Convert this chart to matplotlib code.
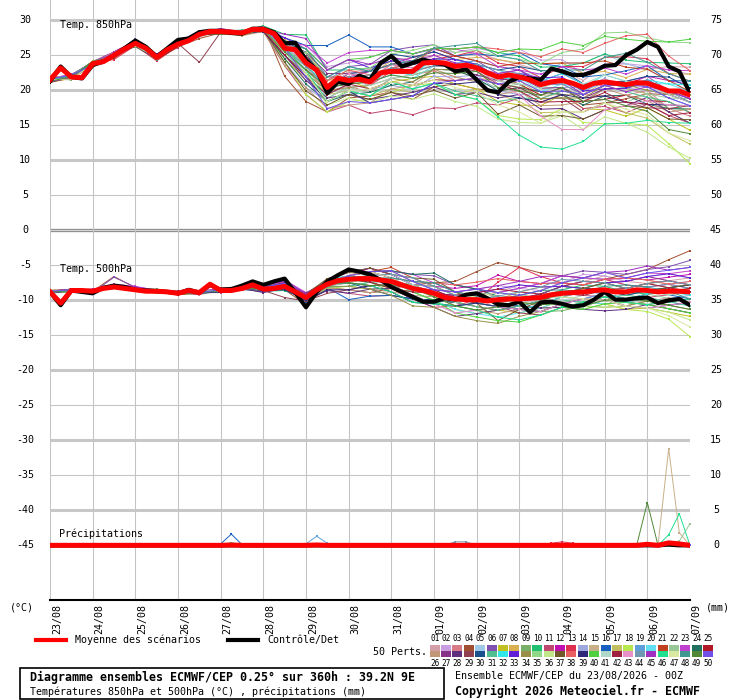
import matplotlib
matplotlib.use("Agg")
import matplotlib.pyplot as plt
import matplotlib.transforms as mtransforms
from matplotlib.lines import Line2D
from matplotlib.patches import Rectangle
import numpy as np

W, H = 740, 700
plt.rcParams['font.family'] = ['DejaVu Sans Mono']

dates = ["23/08", "24/08", "25/08", "26/08", "27/08", "28/08", "29/08", "30/08",
         "31/08", "01/09", "02/09", "03/09", "04/09", "05/09", "06/09", "07/09"]

# 6-hourly ensemble mean / control (deg C), 0..360h
mean850 = [21.5, 23.2, 21.9, 21.8, 23.8, 24.1, 25.0, 25.9, 26.7, 26.0,
           24.7, 25.8, 26.6, 27.1, 28.0, 28.4, 28.4, 28.3, 28.2, 28.7,
           28.7, 28.1, 26.0, 25.8, 23.9, 22.9, 20.4, 21.7, 21.4, 21.6,
           21.2, 22.5, 22.7, 22.7, 22.7, 23.9, 24.0, 23.9, 23.4, 23.6,
           23.2, 22.5, 21.9, 22.2, 21.9, 21.5, 20.8, 21.2, 21.4, 21.0,
           20.4, 21.0, 21.2, 21.0, 20.8, 21.1, 21.0, 20.5, 19.9, 19.9, 19.3]
ctrl850 = [21.3, 23.4, 21.9, 21.7, 23.6, 24.1, 25.0, 26.0, 27.1, 26.2,
           24.8, 26.0, 27.2, 27.4, 28.3, 28.5, 28.5, 28.2, 28.1, 28.8,
           28.8, 28.3, 26.7, 26.8, 24.3, 22.9, 19.6, 21.2, 20.9, 22.1,
           21.5, 23.9, 24.9, 23.4, 23.9, 24.4, 23.9, 23.7, 22.7, 23.0,
           21.5, 20.0, 19.7, 21.2, 21.9, 21.7, 21.5, 23.1, 22.7, 22.2,
           22.2, 22.7, 23.5, 23.6, 25.0, 25.8, 26.9, 26.2, 23.4, 22.7, 19.6]
mean500 = [-8.8, -10.4, -8.6, -8.6, -8.7, -8.3, -8.1, -8.3, -8.5, -8.7,
           -8.7, -8.8, -9.0, -8.6, -8.9, -7.7, -8.6, -8.6, -8.3, -7.8,
           -8.4, -8.3, -8.0, -8.8, -9.6, -8.5, -7.7, -7.2, -7.0, -6.9,
           -6.9, -7.1, -7.3, -7.8, -8.3, -8.6, -9.0, -9.6, -9.8, -9.9,
           -9.9, -10.1, -9.9, -9.8, -9.8, -9.7, -9.6, -9.2, -9.0, -8.9,
           -8.8, -8.6, -8.5, -8.8, -8.8, -8.5, -8.6, -8.8, -8.7, -8.7, -8.8]
ctrl500 = [-8.8, -10.7, -8.6, -8.8, -9.0, -8.2, -7.9, -8.1, -8.5, -8.6,
           -8.7, -8.8, -9.0, -8.5, -8.9, -7.8, -8.5, -8.4, -7.9, -7.3,
           -7.8, -7.3, -6.9, -8.9, -11.0, -8.8, -7.3, -6.4, -5.6, -5.9,
           -6.3, -7.1, -8.1, -8.8, -9.5, -10.2, -10.2, -9.7, -9.9, -9.2,
           -9.0, -9.7, -10.6, -10.7, -10.2, -11.7, -10.3, -10.2, -10.5, -10.9,
           -10.7, -9.9, -8.8, -9.9, -9.9, -9.7, -9.6, -10.4, -10.0, -9.8, -10.7]
rain_mean = [0] * 17 + [0.05] + [0] * 7 + [0.05] + [0] * 30 + [0.15, 0, 0.35, 0.2, 0]
rain_ctrl = [0] * 58 + [0.1, 0, 0]

# 12-hourly member departures from the ensemble mean (deg C), members 01..50
dev850 = [
    [0.2,-0.3,0.1,0.4,-0.2,0.3,0.1,-0.2,0.3,0.2,-0.1,0.8,1.5,1.0,1.2,1.8,1.5,2.0,1.0,1.5,2.2,2.5,1.8,2.0,1.5,1.0,2.5,3.0,2.0,3.5,4.0],
    [-0.3,0.2,0.3,-0.1,0.2,-0.4,0.2,0.3,-0.1,0.0,0.4,1.5,2.5,3.0,2.5,3.5,3.0,2.5,1.8,2.0,2.8,3.5,4.0,3.5,3.0,2.0,2.5,3.0,2.5,3.0,3.0],
    [0.1,0.1,-0.2,0.3,0.5,0.2,-0.3,0.1,0.0,-0.2,0.2,-0.5,-1.0,-0.5,-0.8,-1.5,-1.0,-0.5,-1.2,-2.0,-1.5,-0.5,-1.0,-2.0,-1.5,-1.0,-2.0,-1.5,-1.0,-2.5,-3.0],
    [-0.2,0.3,-0.5,0.5,0.4,-0.3,-0.4,-0.6,-0.2,0.3,0.5,-4.0,-5.5,-3.5,-2.5,-2.0,-3.0,-4.0,-3.5,-2.5,-3.0,-2.0,-1.5,-1.0,-2.0,-2.5,-3.0,-2.0,-1.5,-0.5,-1.0],
    [0.3,-0.2,0.2,0.1,-0.3,0.4,0.2,0.1,-0.3,-0.2,0.0,0.5,-1.5,-1.5,-1.0,-0.5,0.5,1.0,0.5,-0.5,-1.0,-0.5,0.5,1.5,2.5,3.5,4.0,3.0,2.0,1.5,0.5],
    [0.0,0.2,-0.3,0.2,0.6,0.4,0.3,0.5,0.2,0.1,-0.2,1.0,0.5,1.5,2.0,2.5,3.0,3.5,2.5,1.5,1.0,0.5,1.0,0.0,-0.5,-1.0,-0.5,0.5,1.0,0.0,-0.5],
    [-0.4,-0.1,0.4,-0.2,-0.3,0.1,-0.2,0.2,0.0,0.3,0.1,-1.5,-2.5,-0.5,0.0,-1.0,-1.5,-1.0,-2.0,-2.5,-3.0,-3.5,-4.0,-3.0,-2.0,-3.0,-4.0,-4.5,-3.5,-4.0,-5.0],
    [0.2,0.0,0.1,-0.4,0.1,0.2,0.3,-0.1,0.2,-0.3,0.3,1.2,2.0,1.0,0.5,1.0,1.5,1.0,0.5,1.0,1.5,2.5,2.0,3.0,2.5,2.0,1.5,1.0,2.0,2.5,3.0],
    [0.1,-0.4,0.0,0.3,-0.5,-0.2,0.1,0.2,-0.3,0.4,-0.1,0.5,-0.5,0.5,1.0,0.5,0.0,-0.5,-1.0,-0.5,0.0,-1.0,-1.5,-2.0,-2.5,-2.0,-1.0,-0.5,-1.5,-2.5,-2.0],
    [-0.1,0.3,0.2,-0.3,0.2,0.3,-0.1,0.0,0.1,0.2,0.5,2.0,4.0,2.5,1.5,2.0,1.5,1.0,2.0,2.5,3.0,3.5,3.0,2.5,2.0,3.5,4.0,3.5,3.0,4.0,4.5],
    [0.3,0.1,-0.4,0.0,-0.2,0.1,-0.5,0.3,-0.4,-0.2,-0.3,-2.5,-4.5,-3.5,-3.5,-4.5,-5.5,-6.2,-6.5,-6.0,-5.0,-4.0,-3.0,-2.5,-2.0,-3.0,-3.5,-4.0,-3.0,-3.5,-4.0],
    [0.2,0.2,0.3,0.5,0.3,0.0,0.2,0.4,0.1,0.2,0.2,0.5,1.0,0.5,0.5,1.5,1.0,2.0,1.5,1.0,0.5,-0.5,0.0,0.5,1.0,0.5,-0.5,0.0,1.0,1.5,1.5],
    [-0.3,-0.2,0.1,-0.6,-0.3,-0.5,-0.3,-0.2,0.0,-0.1,0.0,0.0,-1.0,0.5,0.5,-0.5,0.0,1.0,0.5,1.5,2.5,2.0,1.5,1.0,2.0,3.0,3.5,4.0,3.5,2.5,2.0],
    [0.0,-0.1,-0.2,0.2,0.0,0.2,-0.1,-0.4,0.2,0.1,-0.2,-2.0,-3.5,-2.0,-1.5,-1.0,-2.0,-2.5,-2.0,-1.5,-1.0,-2.0,-2.5,-1.5,-1.0,0.0,0.5,-0.5,-1.0,-0.5,0.5],
    [0.1,0.3,0.0,0.1,-0.1,0.3,0.2,0.1,0.3,0.0,0.1,0.5,0.0,-1.0,-0.5,0.5,1.0,0.5,0.0,-0.5,-1.5,-1.0,-0.5,-1.5,-2.0,-1.0,0.0,-0.5,-1.5,-3.0,-4.0],
    [-0.2,0.1,0.2,0.2,-0.1,-0.2,0.0,0.3,-0.2,-0.3,0.3,1.5,2.5,6.0,6.5,5.0,3.5,2.5,2.0,1.5,2.0,3.0,3.5,3.0,2.0,1.5,1.0,2.0,2.5,1.5,2.0],
    [0.4,0.0,-0.1,-0.2,0.2,0.1,0.4,0.0,0.1,0.3,-0.4,-1.0,-2.0,-1.0,-1.5,-2.0,-2.5,-3.0,-3.5,-4.0,-3.0,-2.5,-3.5,-4.0,-4.5,-3.5,-3.0,-4.0,-5.0,-6.0,-7.0],
    [-0.1,-0.3,0.3,0.0,-0.4,-0.1,0.3,-0.3,0.0,-0.4,0.2,-2.0,-4.5,-3.5,-3.0,-2.5,-3.0,-2.0,-3.0,-4.0,-4.5,-5.5,-6.0,-5.0,-4.0,-5.0,-6.0,-5.5,-6.0,-7.5,-9.8],
    [0.2,0.0,-0.3,0.4,0.3,0.0,0.1,0.2,-0.1,0.1,0.0,0.0,0.5,1.0,2.0,1.5,2.0,1.0,0.0,0.5,1.0,1.5,1.0,0.5,0.0,-0.5,0.0,0.5,-0.5,-1.0,-1.5],
    [0.0,0.2,0.1,-0.3,0.1,0.4,-0.2,0.1,0.3,-0.1,0.1,-0.5,-2.0,-1.0,-0.5,0.0,-0.5,-1.0,-0.5,0.0,0.5,1.0,0.0,-1.0,-0.5,0.0,1.0,0.5,0.0,1.0,0.5],
    [-0.3,0.1,0.2,0.1,-0.2,-0.3,-0.4,0.2,0.0,0.1,-0.2,1.0,1.5,0.5,0.0,0.5,1.0,1.5,2.0,1.5,1.0,1.5,2.0,3.0,2.5,3.5,3.0,2.5,2.0,1.5,0.5],
    [0.1,-0.2,0.0,0.2,0.3,-0.1,0.2,-0.3,0.1,0.0,0.3,0.0,-0.5,-1.5,-1.0,-1.5,-1.0,-0.5,-1.0,-1.5,-2.0,-1.5,-1.0,-0.5,-1.0,-1.5,-2.0,-2.5,-1.5,-1.0,-0.5],
    [0.2,0.4,-0.1,0.3,0.1,0.2,0.3,0.4,0.2,0.3,0.2,1.0,2.5,3.5,4.0,4.5,3.0,2.5,2.0,2.5,2.0,1.5,1.0,1.5,2.0,2.5,2.0,1.5,2.5,3.0,3.5],
    [-0.2,-0.1,0.3,-0.1,0.0,0.1,-0.2,-0.1,-0.3,0.2,0.0,-1.5,-3.0,-2.0,-2.0,-1.5,-2.0,-1.5,-1.0,-0.5,-1.5,-2.0,-1.5,-1.0,-2.0,-2.5,-2.0,-1.5,-3.0,-2.5,-2.0],
    [0.3,0.2,0.1,0.0,0.2,-0.2,0.1,0.0,0.4,0.2,0.1,0.5,1.0,0.0,-0.5,0.0,0.5,0.0,-0.5,0.0,0.5,0.0,-1.0,-1.5,-1.0,-2.0,-2.5,-1.5,-2.5,-1.5,-2.5],
    [-0.1,0.0,-0.4,0.2,-0.2,0.0,-0.3,0.1,-0.2,-0.4,-0.3,-2.5,-3.5,-3.0,-3.5,-3.0,-2.5,-2.0,-1.0,-1.5,-2.0,-2.5,-2.0,-3.0,-3.5,-2.0,-1.0,-1.5,-2.5,-3.0,-2.0],
    [0.0,0.3,0.2,-0.2,0.1,0.3,0.0,-0.1,0.1,0.3,0.2,0.5,1.5,2.0,1.0,1.5,1.0,0.5,0.0,-0.5,-1.0,-0.5,0.0,-0.5,-1.0,-1.5,-1.0,-0.5,0.0,-0.5,-1.0],
    [0.2,-0.1,0.1,0.3,-0.1,-0.1,0.2,-0.2,0.0,-0.1,-0.1,-1.0,-2.5,-1.5,-2.0,-2.5,-3.5,-3.0,-3.5,-4.0,-3.5,-3.0,-2.5,-3.5,-4.0,-4.5,-4.0,-3.0,-2.0,-3.0,-4.0],
    [-0.4,0.1,-0.1,-0.1,0.2,0.2,0.1,-4.0,-0.1,0.2,0.4,0.0,1.0,1.5,0.5,0.0,0.5,1.0,0.5,0.0,-0.5,-1.0,-1.5,-2.0,-2.5,-3.5,-3.0,-2.5,-3.5,-2.5,-1.5],
    [0.1,0.2,0.0,-0.2,-0.3,0.1,0.0,0.3,0.2,0.0,0.2,1.0,1.5,0.0,1.0,1.5,2.5,2.0,1.5,1.0,0.5,1.0,1.5,2.0,1.5,0.5,0.0,0.5,1.0,2.0,1.0],
    [0.2,0.0,0.3,0.1,0.4,0.3,0.1,0.2,0.1,0.4,0.0,-0.5,-1.5,-2.0,-1.5,-2.0,-1.5,-2.5,-3.0,-3.5,-4.0,-3.5,-3.0,-2.0,-1.5,-1.0,-0.5,-1.0,-2.0,-1.5,-2.5],
    [-0.2,0.3,-0.2,0.2,0.0,0.2,0.3,-0.2,0.1,-0.2,0.1,0.5,0.0,-0.5,0.0,0.5,0.0,-0.5,0.5,1.0,0.5,0.0,-0.5,0.5,1.0,0.5,0.0,-0.5,0.5,1.0,1.5],
    [0.0,-0.3,0.1,0.3,0.2,-0.1,0.2,0.1,0.3,0.1,-0.1,1.5,2.0,2.5,3.0,2.0,1.5,1.0,0.5,1.0,0.5,0.0,0.5,1.0,0.5,-0.5,-1.0,-0.5,0.5,0.0,-0.5],
    [0.3,0.1,-0.3,0.0,0.3,0.0,-0.1,0.3,-0.2,0.1,0.3,-1.0,-1.5,-0.5,-1.0,-0.5,-1.0,-1.5,-1.0,-0.5,0.0,-0.5,-1.0,-2.0,-2.5,-1.5,-0.5,0.0,-1.0,-0.5,0.0],
    [-0.1,0.2,0.2,0.4,-0.2,0.1,0.0,0.0,0.2,0.3,0.1,0.5,1.5,1.0,1.5,2.0,2.5,3.0,2.5,2.0,2.5,3.0,2.5,3.0,4.0,5.5,7.0,7.5,6.5,7.0,7.5],
    [0.2,-0.2,0.0,-0.3,0.0,-0.2,0.2,0.1,-0.1,0.0,-0.2,-0.5,-1.0,-2.5,-2.5,-3.0,-3.5,-4.0,-4.5,-5.0,-5.5,-6.0,-6.5,-5.5,-5.0,-6.0,-5.0,-5.5,-7.0,-8.0,-9.0],
    [-0.3,-0.1,0.1,-0.4,-0.1,-0.3,-0.2,0.0,-0.4,-0.3,-0.1,-2.0,-4.0,-2.5,-2.0,-2.5,-3.0,-3.5,-4.0,-4.5,-3.5,-5.3,-4.0,-4.5,-5.0,-4.5,-4.0,-3.0,-3.5,-4.0,-3.5],
    [0.1,0.0,0.2,0.1,0.1,0.3,0.0,-0.3,0.2,0.1,0.2,0.5,0.5,1.0,1.5,1.0,0.5,1.0,2.0,2.5,3.0,4.0,3.5,4.0,4.5,5.0,5.5,7.0,7.0,5.0,3.5],
    [-0.2,0.2,-0.1,0.0,-0.4,-0.2,-0.3,0.1,-0.1,0.0,-0.3,-1.0,-2.0,-2.0,-1.5,-3.0,-4.0,-3.5,-3.0,-2.5,-2.0,-2.5,-3.0,-2.5,-2.0,-1.5,-2.0,-2.5,-3.0,-2.0,-1.5],
    [0.0,0.1,0.3,0.2,0.0,0.2,0.1,0.2,0.0,0.3,0.1,1.0,2.0,2.5,3.0,3.5,3.0,2.5,2.0,2.5,3.0,3.5,4.0,5.0,5.5,6.0,6.5,6.5,6.0,7.0,8.0],
    [0.2,-0.1,0.1,0.3,0.2,0.1,0.2,0.0,0.1,-0.2,0.0,0.0,0.5,-0.5,0.0,-0.5,-1.0,-0.5,0.0,0.5,0.0,-0.5,-1.0,-0.5,0.0,0.5,1.0,0.5,0.0,-0.5,-1.0],
    [-0.1,-0.2,-0.3,0.1,-0.1,0.0,-0.2,-0.1,-0.2,0.1,-0.2,-1.0,-2.0,-1.0,-0.5,-1.0,-1.5,-2.0,-2.5,-2.0,-1.5,-1.0,-2.0,-2.5,-3.0,-2.0,-1.5,-2.5,-3.0,-3.5,-2.5],
    [0.3,0.2,0.0,0.2,0.1,-0.1,0.3,0.2,0.2,-0.1,0.3,0.5,0.0,0.5,1.0,0.5,1.0,0.5,1.0,0.5,0.0,-1.0,-2.5,-4.5,-7.0,-6.0,-4.0,-3.0,-2.5,-2.0,-1.5],
    [0.0,0.1,-0.2,-0.1,0.3,0.2,0.0,0.1,0.0,0.2,-0.1,0.0,-0.5,0.0,0.5,1.0,0.5,0.0,-0.5,0.0,0.5,1.0,0.5,0.0,-0.5,-1.0,-0.5,0.0,0.5,0.0,-1.0],
    [-0.3,0.0,0.2,0.3,0.4,0.5,0.2,0.3,0.4,0.1,0.0,2.0,3.5,2.5,3.0,2.5,2.0,1.5,1.0,0.5,0.0,0.5,1.0,0.5,0.0,-1.0,-0.5,-1.0,-0.5,0.0,-0.5],
    [0.1,0.2,0.1,-0.2,-0.2,0.0,0.1,-0.1,0.1,0.2,0.2,0.0,-1.0,-2.0,-1.5,-2.0,-1.5,-2.5,-3.0,-4.0,-4.5,-5.7,-8.3,-8.9,-9.8,-7.7,-6.0,-5.5,-5.3,-4.5,-4.0],
    [0.0,-0.3,-0.1,0.1,-0.3,-0.1,-0.2,0.0,0.1,-0.1,0.2,-0.5,-1.5,-2.0,-1.5,-1.0,-1.5,-2.0,-2.5,-3.0,-3.5,-4.0,-5.0,-5.5,-4.5,-3.5,-3.0,-3.5,-4.5,-6.0,-6.5],
    [0.2,0.1,0.0,0.0,0.1,-0.3,0.1,-0.2,0.2,0.2,0.1,1.0,2.0,1.5,2.0,1.5,1.0,1.5,2.0,3.0,3.5,3.0,2.5,2.0,1.5,2.5,3.5,4.5,3.0,2.5,2.0],
    [-0.2,0.0,0.3,-0.2,0.1,0.1,-0.1,0.2,-0.3,-0.2,0.0,-0.5,-1.0,0.0,-0.5,0.0,-0.5,-1.0,-1.5,-1.0,-0.5,-1.5,-2.0,-1.5,-1.0,-2.0,-2.5,-3.0,-4.0,-5.5,-5.5],
    [0.1,0.3,-0.2,0.1,0.2,0.4,0.1,0.2,-0.1,0.3,0.2,0.0,-2.0,-3.0,-3.0,-3.0,-4.0,-3.5,-3.0,-2.0,-1.5,-1.0,-0.5,-1.0,-1.5,-1.0,-0.5,0.0,-0.5,-1.0,-1.5],
]
dev500 = [
    [0.1,0.2,-0.1,0.2,0.0,-0.2,0.1,0.3,0.0,0.1,0.2,0.5,0.3,0.5,0.5,1.0,1.5,1.0,0.5,1.0,1.5,1.0,2.0,1.5,1.0,1.5,2.0,1.5,1.0,1.5,2.0],
    [-0.2,0.0,0.3,0.1,0.3,0.1,-0.1,0.0,0.2,0.3,0.5,0.3,0.0,0.8,1.0,1.5,1.0,0.5,1.5,2.0,1.5,2.0,1.5,1.0,1.5,2.5,2.0,1.5,2.0,2.5,2.0],
    [0.0,-0.1,0.2,-0.2,0.1,0.2,0.0,-0.3,0.1,-0.1,-0.3,0.0,-0.5,-0.2,-0.5,-1.0,-0.5,0.0,-0.5,-1.0,-1.5,-1.0,-0.5,-1.0,-1.5,-1.0,-0.5,-1.0,-1.5,-2.0,-1.5],
    [0.2,0.1,0.0,1.5,0.3,0.0,0.2,-0.1,0.4,0.2,0.0,-0.5,-1.0,-0.5,-1.5,-2.0,-1.0,0.5,1.5,2.5,4.0,5.3,4.5,3.5,2.5,2.0,1.5,2.5,3.0,4.5,5.9],
    [-0.1,0.1,0.1,0.0,-0.2,0.1,0.2,0.1,-0.2,0.0,0.2,-0.3,0.4,0.3,0.0,-0.5,0.0,0.5,1.0,0.5,0.0,-0.5,0.5,1.0,1.5,2.0,1.5,1.0,0.5,1.0,1.5],
    [0.1,0.0,-0.2,1.4,0.4,0.2,0.1,0.2,0.0,-0.1,0.5,0.8,0.6,0.3,0.5,1.0,1.5,2.0,2.5,2.0,1.5,1.0,1.5,2.0,2.5,3.0,2.5,2.5,3.0,3.5,4.5],
    [0.0,0.2,0.1,-0.1,0.0,-0.3,0.0,0.1,-0.1,0.2,-0.2,0.0,-0.3,0.0,0.0,-0.5,-1.0,-1.5,-1.0,-0.5,-1.0,-1.5,-2.0,-1.5,-1.0,-1.5,-2.0,-2.5,-2.5,-3.0,-3.5],
    [0.3,0.0,0.2,0.1,0.2,0.0,0.2,0.0,0.1,0.1,0.4,0.2,0.5,0.0,0.5,0.0,-0.5,0.0,0.5,1.0,0.5,0.0,1.0,1.5,1.0,0.5,0.0,0.5,1.0,0.5,0.0],
    [-0.1,-0.2,0.0,0.2,-0.1,0.1,-0.2,0.0,0.0,-0.2,0.0,0.3,0.0,-0.4,-1.0,-0.5,-1.5,-2.0,-1.5,-1.0,-0.5,-1.0,-1.5,-2.0,-2.5,-2.0,-1.5,-1.0,-1.5,-2.0,-1.5],
    [0.0,0.1,0.2,-0.1,0.2,0.3,0.1,-0.1,0.2,0.0,-0.3,-0.6,-0.2,0.6,0.5,1.0,0.5,1.0,1.5,1.0,0.5,1.0,0.5,0.0,0.5,1.0,0.5,0.0,-0.5,0.0,0.5],
    [0.2,0.0,0.0,0.2,0.0,-0.1,0.3,0.0,-0.3,0.1,0.3,0.6,0.2,-0.8,-2.0,-2.5,-2.0,-1.5,-1.0,-0.5,-1.0,-1.5,-1.0,-0.5,0.0,-0.5,-1.0,-1.5,-1.0,-0.5,0.0],
    [-0.2,0.1,-0.1,0.0,0.3,0.1,0.0,0.2,0.1,-0.2,0.0,0.5,0.4,0.2,0.5,1.5,1.0,0.5,1.0,1.5,2.0,3.5,2.5,2.0,1.5,1.0,1.5,2.0,1.5,2.0,2.5],
    [0.1,0.2,0.2,-0.2,0.1,0.0,-0.1,0.1,0.3,0.2,0.2,-0.4,0.3,0.4,0.0,-0.5,-1.0,-1.5,-2.0,-1.0,0.0,2.5,4.5,3.0,1.5,1.0,1.5,1.0,0.5,1.0,0.5],
    [0.0,-0.1,0.1,0.1,0.0,0.2,0.1,-0.2,0.0,0.1,0.1,0.0,0.2,-0.3,-0.5,-1.0,-0.5,-1.0,-1.5,-2.0,-1.5,-1.0,-0.5,-1.0,-1.5,-1.0,-0.5,-1.0,-1.5,-1.0,-0.5],
    [0.2,0.1,0.0,0.3,0.1,-0.1,0.2,0.0,0.2,0.0,0.6,0.4,0.1,0.2,0.5,1.0,1.5,1.0,0.5,0.0,-0.5,0.0,0.5,1.0,1.5,2.0,2.5,2.0,1.5,1.0,-0.5],
    [-0.1,0.0,0.1,-0.2,0.0,0.0,0.1,0.0,-0.1,-0.1,-0.4,-0.2,-0.6,-0.5,-2.9,-2.5,-2.0,-1.5,-1.0,-0.5,0.0,-0.5,-1.0,-0.5,0.0,0.5,1.0,0.5,0.0,-0.5,-1.0],
    [0.1,0.2,0.0,0.1,0.2,0.1,0.0,0.1,0.2,0.1,0.2,0.0,0.5,0.6,1.0,0.5,0.0,-0.5,-1.0,-0.5,0.0,0.5,0.0,-0.5,-1.0,-1.5,-1.0,-1.5,-2.0,-2.5,-3.0],
    [-0.2,-0.1,0.2,0.0,-0.1,0.2,-0.2,-0.1,0.0,0.2,-0.2,0.3,-0.4,-0.6,-1.0,-1.5,-1.0,-0.5,-1.0,-1.5,-2.0,-1.5,-1.0,-1.5,-2.0,-2.5,-2.0,-2.5,-3.0,-4.0,-6.4],
    [0.0,0.1,-0.1,0.2,0.0,0.1,0.0,0.2,-0.1,0.0,0.3,0.1,0.0,0.4,0.5,0.0,0.5,1.0,0.5,0.0,-0.5,0.0,0.5,0.0,-0.5,-1.0,-0.5,0.0,0.5,1.0,0.5],
    [0.1,0.0,0.1,0.0,0.1,0.2,0.1,0.0,0.1,0.2,-0.1,0.2,0.3,-0.1,0.0,0.5,0.0,-0.5,-1.0,-1.5,-2.0,-2.5,-2.0,-1.5,-1.0,-1.5,-2.0,-1.5,-1.0,-1.5,-2.0],
    [0.0,0.2,0.0,0.3,0.2,0.0,-0.1,0.2,0.1,-0.2,0.1,0.6,0.0,0.1,0.5,1.0,2.0,1.5,1.0,0.5,0.0,-0.5,0.0,0.5,1.0,1.5,1.0,0.5,1.0,1.5,1.0],
    [-0.1,0.1,0.2,-0.1,0.1,0.2,0.1,0.1,0.0,0.1,0.2,0.2,0.4,-0.2,-0.5,0.0,0.5,0.0,-0.5,-1.0,-0.5,0.0,-0.5,-1.0,-1.5,-2.0,-1.5,-1.0,-0.5,-1.0,-1.5],
    [0.2,0.0,0.1,0.4,0.5,0.1,0.2,0.3,0.0,0.2,0.6,0.9,0.7,0.3,0.5,1.0,1.5,2.0,1.5,1.0,0.5,1.0,1.5,2.0,2.5,2.0,1.5,2.0,2.5,2.5,3.0],
    [0.0,-0.2,0.1,0.0,0.0,-0.1,0.0,-0.1,-0.2,0.1,0.0,-0.3,-0.4,0.1,0.5,1.0,1.5,2.0,2.9,2.0,1.5,0.5,0.0,0.5,1.0,0.5,0.0,-0.5,0.0,0.5,1.0],
    [0.1,0.1,-0.2,0.1,0.2,0.0,0.1,0.0,0.1,0.0,0.0,0.1,0.2,0.0,-0.5,-1.0,-0.5,0.0,0.5,0.0,-0.5,-1.0,-1.5,-1.0,-0.5,0.0,-0.5,-1.0,-0.5,0.0,0.5],
    [-0.2,0.0,0.0,-0.1,0.1,-0.2,-0.1,0.1,0.0,-0.1,-0.2,-0.4,-0.3,-0.5,-1.5,-2.0,-1.5,-1.0,-0.5,-1.0,-1.5,-2.0,-1.5,-1.0,-0.5,-1.0,-1.5,-2.0,-1.5,-1.0,-1.5],
    [0.1,0.2,0.1,0.2,0.0,0.1,0.3,0.0,0.2,0.1,0.1,0.4,0.6,0.5,1.0,1.5,1.0,0.5,0.0,0.5,1.0,0.5,0.0,0.5,1.0,1.5,1.0,1.5,2.0,1.5,1.0],
    [0.0,0.0,-0.1,0.2,-0.2,0.1,0.0,-0.2,0.1,0.0,-0.5,-0.3,-0.4,-0.9,-2.0,-1.5,-1.0,-1.5,-2.0,-2.5,-2.0,-1.5,-1.0,-1.5,-2.0,-2.5,-3.0,-2.5,-2.0,-2.5,-3.0],
    [-0.1,0.1,0.0,-0.2,0.2,0.0,-0.2,0.0,-0.1,0.1,-0.2,-1.6,-0.5,-1.3,-1.5,-1.0,-0.5,-1.0,-1.5,-1.0,-0.5,-1.0,-2.0,-2.5,-2.0,-1.5,-1.0,-1.5,-2.0,-1.5,-1.0],
    [0.1,0.0,0.2,0.0,0.1,0.1,0.0,0.2,0.1,0.0,0.1,0.0,-0.2,0.2,-0.5,-1.5,-2.0,-1.5,-1.0,-0.5,0.0,0.5,0.0,-0.5,0.0,0.5,0.0,-0.5,0.0,0.5,1.0],
    [0.0,0.1,-0.1,0.1,0.1,0.0,0.1,-0.1,0.0,0.2,0.0,0.2,-0.1,-0.4,-1.0,-0.5,0.0,0.5,0.0,-0.5,-1.0,-1.5,-1.0,-0.5,-1.0,-1.5,-1.0,-0.5,-1.0,-1.5,-2.0],
    [0.1,-0.1,0.0,0.1,0.0,0.2,0.1,0.1,0.0,-0.1,0.2,0.4,0.0,0.6,0.5,0.0,-0.5,-1.0,-1.5,-1.0,-0.5,-1.0,-1.5,-1.0,-0.5,0.0,-0.5,-1.0,-0.5,0.0,-0.5],
    [-0.1,0.2,0.1,0.0,0.3,0.0,0.1,0.2,0.1,0.0,0.3,0.5,0.2,-0.2,0.0,0.5,1.0,0.5,0.0,0.5,1.0,1.5,2.0,1.5,1.0,0.5,1.0,1.5,2.0,2.5,2.0],
    [0.0,0.0,0.1,-0.1,0.0,-0.1,0.0,0.0,-0.1,0.0,-0.1,0.1,-0.3,-0.3,-1.0,-1.5,-2.0,-2.5,-2.0,-2.5,-3.0,-3.4,-2.5,-2.0,-1.5,-2.0,-2.5,-2.0,-1.5,-2.0,-2.5],
    [0.1,0.1,0.0,0.2,0.1,0.1,0.0,0.1,0.2,0.1,0.0,0.3,0.1,0.2,0.0,0.5,0.0,0.5,1.0,0.5,1.0,0.5,0.0,-0.5,0.0,0.5,1.0,0.5,0.0,-0.5,0.0],
    [-0.1,0.0,0.2,0.1,-0.1,0.0,0.1,0.0,-0.1,0.1,0.1,0.0,0.2,-0.1,0.5,1.0,0.5,0.0,-0.5,-1.0,-1.5,-1.0,-0.5,-1.0,-1.5,-2.0,-2.5,-2.0,-2.5,-3.0,-4.0],
    [0.2,0.0,0.0,0.1,0.2,0.0,0.2,0.1,0.0,0.1,0.3,0.0,0.5,0.8,1.0,1.5,1.0,1.5,2.0,1.0,-0.5,-3.0,-1.5,-0.5,0.0,0.5,1.0,0.5,0.0,0.5,1.0],
    [0.0,0.1,0.1,0.0,0.1,0.2,0.0,0.1,0.0,0.2,0.2,-0.2,0.1,0.3,0.5,1.0,0.5,1.0,1.5,2.0,2.5,3.0,2.5,2.0,1.5,1.0,1.5,2.0,1.5,1.0,1.5],
    [-0.2,0.0,-0.1,0.0,0.1,-0.1,-0.1,0.0,-0.2,0.0,-0.2,-0.5,-0.4,-0.8,-1.5,-1.0,-1.5,-2.0,-1.5,-1.0,-0.5,-1.0,-1.5,-2.0,-1.5,-1.0,-1.5,-2.0,-2.5,-2.0,-1.5],
    [0.1,0.0,0.2,0.1,0.0,0.1,0.1,0.2,0.1,0.0,0.1,0.2,0.0,0.1,0.0,-0.5,-1.0,-0.5,-1.0,-2.0,-2.5,-3.0,-3.3,-2.5,-2.0,-2.5,-2.0,-1.5,-2.0,-2.5,-3.0],
    [0.0,0.1,0.0,0.1,-0.1,0.1,0.0,0.1,0.0,0.1,0.0,0.1,0.3,0.1,0.0,0.5,1.0,0.5,0.0,-0.5,0.0,0.5,0.0,-0.5,-1.0,-0.5,0.0,0.5,0.0,-0.5,0.0],
    [0.1,0.0,0.1,0.2,0.1,0.0,0.2,0.0,0.1,0.0,0.1,0.3,0.2,0.0,0.0,-0.5,-1.0,-0.5,0.0,0.5,1.0,1.5,1.0,0.5,0.0,-0.5,0.0,0.5,1.0,0.5,0.0],
    [-0.1,0.1,0.0,0.2,0.2,0.0,0.1,0.1,0.0,0.1,0.2,0.1,0.0,0.3,0.5,0.0,-0.5,-1.0,-1.5,-2.0,-1.5,-1.0,-1.5,-2.0,-1.5,-1.0,-1.5,-2.0,-2.5,-2.0,-1.5],
    [0.0,0.0,0.1,0.0,0.1,0.1,0.0,0.0,0.1,0.0,0.1,0.0,0.1,0.2,0.0,0.5,1.0,1.5,1.0,0.5,0.0,0.5,1.0,1.5,2.0,1.5,1.0,0.5,1.0,1.5,1.0],
    [0.2,0.1,0.3,0.3,0.4,0.1,0.2,0.3,0.2,0.1,0.5,0.7,0.5,0.2,0.5,1.0,0.5,0.0,0.5,1.0,1.5,2.0,2.5,3.0,2.5,2.0,2.5,3.0,3.5,3.0,3.5],
    [0.0,0.1,0.0,0.1,0.0,0.0,0.1,0.0,0.0,0.1,0.0,0.2,0.0,0.1,-0.5,-1.0,-1.5,-2.0,-1.5,-1.0,-1.5,-2.5,-3.0,-2.5,-2.0,-1.5,-1.0,-1.5,-2.0,-1.5,-1.0],
    [0.1,0.0,0.0,0.1,0.1,0.0,0.0,0.1,0.1,0.0,0.0,0.1,0.1,0.0,0.5,1.0,0.5,0.0,-0.5,0.0,0.5,1.0,0.5,0.0,-0.5,-1.0,-1.5,-2.0,-2.5,-3.5,-5.0],
    [-0.1,0.1,0.1,0.0,0.2,0.1,0.0,0.1,0.0,0.1,0.1,0.2,0.3,0.0,0.5,0.0,0.5,1.0,1.5,1.0,0.5,0.0,0.5,1.0,0.5,0.0,0.5,1.0,0.5,0.0,-1.0],
    [0.0,0.0,0.0,0.1,0.0,0.1,0.0,0.0,0.0,0.1,0.0,0.1,0.0,0.2,-0.5,-1.0,-0.5,0.0,-0.5,-1.0,-1.5,-1.0,-0.5,-1.0,-1.5,-2.0,-1.5,-1.0,-1.5,-2.0,-2.5],
    [0.1,0.1,0.1,0.0,0.3,0.1,0.1,0.0,0.1,0.1,0.3,0.4,0.3,0.2,0.5,1.0,1.5,1.0,0.5,1.0,1.5,1.0,0.5,1.0,1.5,2.0,2.5,2.0,2.5,3.0,3.5],
]

# precipitation events (member number, 6h step, mm); all other steps are dry
rain_member = [16, 16, 16, 31, 19, 19, 19, 44, 44, 13, 13, 13, 49, 15, 15, 46, 46, 22, 22]
rain_step = [16, 17, 18, 17, 24, 25, 26, 38, 39, 47, 48, 49, 56, 58, 59, 58, 59, 59, 60]
rain_mm = [0.2, 1.6, 0.1, 0.4, 0.2, 1.3, 0.3, 0.5, 0.5, 0.3, 0.5, 0.3, 6.1, 13.8, 1.8, 1.5, 4.5, 0.6, 3.1]

member_colors = [
    "#d49ea8", "#c89ee0", "#d87a88", "#a05030", "#a0c8e8", "#8050b0", "#c0c020", "#d8b050",
    "#78b068", "#20c070", "#c04870", "#c010b0", "#e03050", "#a0a8e0", "#c8b088", "#1860c0",
    "#c0c060", "#b8e850", "#60a0d8", "#60e0f0", "#c04020", "#98c898", "#c040d0", "#207060",
    "#b01828", "#c09878", "#883088", "#603080", "#904050", "#185090", "#50c090", "#30e8e8",
    "#6020d8", "#989048", "#90d888", "#c0e888", "#705828", "#e86060", "#302878", "#50d040",
    "#b0d8c8", "#a02040", "#e890c8", "#7098b0", "#a030c0", "#20e090", "#d8e8a0", "#409890",
    "#508838", "#7050e8",
]

PRECIP_BASE = -45  # 0 mm sits on the -45 line of the left scale

t6 = np.arange(61) * 0.25
t12 = t6[::2]
dev850 = np.array(dev850)
dev500 = np.array(dev500)
mem850 = np.array(mean850)[::2] + dev850
mem500 = np.array(mean500)[::2] + dev500
rain = np.zeros((50, 61))
for m, s, v in zip(rain_member, rain_step, rain_mm):
    rain[m - 1, s] = v


def fx(x):
    return x / W


def fy(y):
    return 1 - y / H


fig = plt.figure(figsize=(W / 100, H / 100), dpi=100)
fig.patch.set_facecolor("white")
ax = fig.add_axes([fx(50), fy(600), 640 / W, 600 / H])
ax.set_xlim(0, 15)
ax.set_ylim(-52.81, 32.9)
for s in ["top", "left", "right"]:
    ax.spines[s].set_visible(False)
ax.spines["bottom"].set_color("black")
ax.spines["bottom"].set_linewidth(1.5)
ax.set_xticks([])
ax.set_yticks([])

# grid
for v in range(-45, 31, 5):
    if v == 0:
        ax.axhline(v, color="#909090", lw=2.4, zorder=1)
        ax.axhline(v, color="#d8d8d8", lw=0.7, zorder=1)
    elif v % 10 == 0:
        ax.axhline(v, color="#c8c8c8", lw=2.2, zorder=1)
    else:
        ax.axhline(v, color="#c4c4c4", lw=0.75, zorder=1)
for d in range(16):
    ax.axvline(d, color="#c4c4c4", lw=0.75, zorder=1)

mk = dict(lw=0.7, marker="s", ms=1.6, mew=0, zorder=3)
for i in range(50):
    c = member_colors[i]
    ax.plot(t12, mem850[i], color=c, **mk)
    ax.plot(t12, mem500[i], color=c, **mk)
    ax.plot(t6, rain[i] + PRECIP_BASE, color=c, **mk)

ax.plot(t6, ctrl850, color="black", lw=3.0, zorder=4)
ax.plot(t6, ctrl500, color="black", lw=3.0, zorder=4)
ax.plot(t6, np.array(rain_ctrl) + PRECIP_BASE, color="black", lw=3.0, zorder=4)
ax.plot(t6, mean850, color="#ff0000", lw=3.6, zorder=5)
ax.plot(t6, mean500, color="#ff0000", lw=3.6, zorder=5)
ax.plot(t6, np.array(rain_mean) + PRECIP_BASE, color="#ff0000", lw=3.6, zorder=5)

fs = 7.2
fig.text(fx(60), fy(25), "Temp. 850hPa", fontsize=fs, va="center", ha="left")
fig.text(fx(60), fy(269), "Temp. 500hPa", fontsize=fs, va="center", ha="left")
fig.text(fx(59), fy(534), "Précipitations", fontsize=fs, va="center", ha="left")

# scales
left_tr = mtransforms.blended_transform_factory(fig.transFigure, ax.transData)
for v in range(-45, 31, 5):
    fig.text(fx(25), v, str(v), transform=left_tr, fontsize=fs, ha="center", va="center")
    fig.text(fx(716), v, str(v + 45), transform=left_tr, fontsize=fs, ha="center", va="center")
fig.text(fx(22), fy(607), "(°C)", fontsize=fs, ha="center", va="center")
fig.text(fx(718), fy(607), "(mm)", fontsize=fs, ha="center", va="center")

date_tr = mtransforms.blended_transform_factory(ax.transData, fig.transFigure)
for d, lab in enumerate(dates):
    ax.text(d + 0.16, fy(604), lab, transform=date_tr, rotation=90, fontsize=fs,
            ha="center", va="top", clip_on=False)

# legend
fig.add_artist(Line2D([fx(36), fx(66)], [fy(640), fy(640)], color="#ff0000", lw=3))
fig.text(fx(75), fy(640), "Moyenne des scénarios", fontsize=fs, va="center", ha="left")
fig.add_artist(Line2D([fx(228), fx(258)], [fy(640), fy(640)], color="black", lw=3))
fig.text(fx(267), fy(640), "Contrôle/Det", fontsize=fs, va="center", ha="left")
fig.text(fx(373), fy(652), "50 Perts.", fontsize=fs, va="center", ha="left")
for j in range(25):
    x0 = 429.7 + 11.39 * j
    fig.add_artist(Rectangle((fx(x0), fy(650.8)), 10 / W, 6 / H, color=member_colors[j], lw=0))
    fig.add_artist(Rectangle((fx(x0), fy(656.8)), 10 / W, 6 / H, color=member_colors[j + 25], lw=0))
    fig.text(fx(x0 + 5), fy(638.5), "%02d" % (j + 1), fontsize=5.6, ha="center", va="center")
    fig.text(fx(x0 + 5), fy(663.5), "%02d" % (j + 26), fontsize=5.6, ha="center", va="center")

# caption
fig.add_artist(Rectangle((fx(20), fy(699)), 424 / W, 31 / H, fill=False, ec="black", lw=1.2))
fig.text(fx(29.6), fy(677), "Diagramme ensembles ECMWF/CEP 0.25° sur 360h : 39.2N 9E",
         fontsize=8.4, fontweight="bold", va="center", ha="left")
fig.text(fx(29.6), fy(691.5), "Températures 850hPa et 500hPa (°C) , précipitations (mm)",
         fontsize=fs, va="center", ha="left")
fig.text(fx(455), fy(675.5), "Ensemble ECMWF/CEP du 23/08/2026 - 00Z",
         fontsize=fs, va="center", ha="left")
fig.text(fx(455), fy(691), "Copyright 2026 Meteociel.fr - ECMWF",
         fontsize=8.4, fontweight="bold", va="center", ha="left")

fig.savefig("out.png", dpi=100, facecolor="white")
